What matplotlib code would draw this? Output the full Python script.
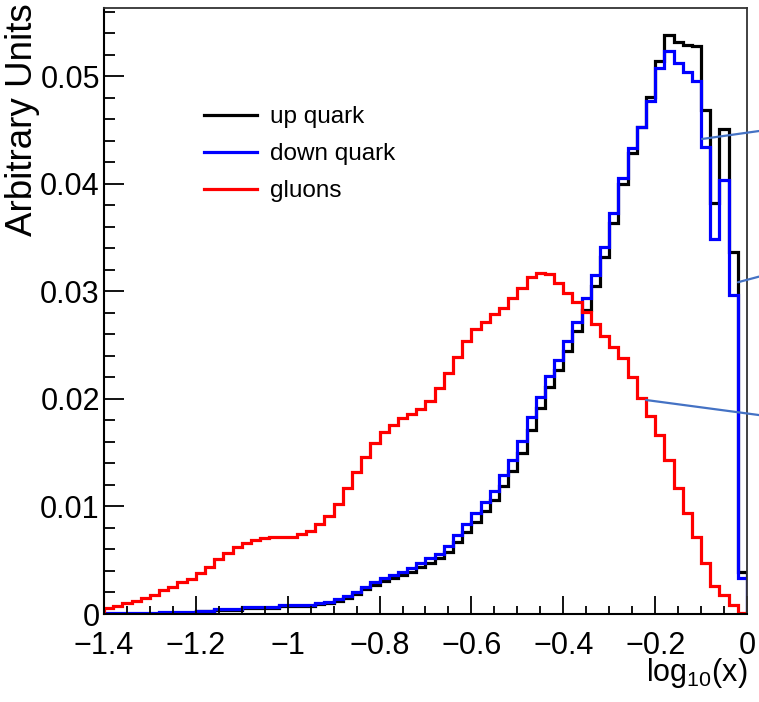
import matplotlib.pyplot as plt
import numpy as np
from matplotlib.lines import Line2D

plt.rcParams['font.family'] = ['Liberation Sans', 'DejaVu Sans']
plt.rcParams['mathtext.fontset'] = 'custom'
plt.rcParams['mathtext.rm'] = 'Liberation Sans'
plt.rcParams['mathtext.it'] = 'Liberation Sans:italic'

# histogram binning: 70 bins in log10(x) from -1.4 to 0
bin_edges = np.linspace(-1.4, 0.0, 71)

# values, one per bin
up_quark = [
    0.00003, 0.00003, 0.00003, 0.00003, 0.00003, 0.00003, 0.00012, 0.00012, 0.00012, 0.00012,
    0.00025, 0.00025, 0.00040, 0.00040, 0.00040, 0.00060, 0.00060, 0.00060, 0.00060, 0.00076,
    0.00076, 0.00076, 0.00076, 0.00090, 0.00105, 0.00125, 0.00152, 0.00188, 0.00230, 0.00270,
    0.00305, 0.00335, 0.00365, 0.00395, 0.00435, 0.00478, 0.00520, 0.00580, 0.00670, 0.00760,
    0.00860, 0.00960, 0.01060, 0.01190, 0.01330, 0.01500, 0.01710, 0.01920, 0.02110, 0.02270,
    0.02450, 0.02630, 0.02830, 0.03050, 0.03320, 0.03640, 0.04000, 0.04290, 0.04530, 0.04810,
    0.05140, 0.05380, 0.05320, 0.05290, 0.05280, 0.04690, 0.03820, 0.04510, 0.03370, 0.00390,
]
down_quark = [
    0.00005, 0.00005, 0.00005, 0.00005, 0.00005, 0.00005, 0.00017, 0.00017, 0.00017, 0.00017,
    0.00032, 0.00032, 0.00045, 0.00045, 0.00045, 0.00068, 0.00068, 0.00068, 0.00068, 0.00084,
    0.00084, 0.00084, 0.00084, 0.00099, 0.00115, 0.00140, 0.00170, 0.00208, 0.00254, 0.00295,
    0.00332, 0.00363, 0.00394, 0.00425, 0.00471, 0.00518, 0.00558, 0.00635, 0.00735, 0.00837,
    0.00936, 0.01038, 0.01147, 0.01290, 0.01430, 0.01612, 0.01829, 0.02021, 0.02213, 0.02362,
    0.02542, 0.02718, 0.02935, 0.03152, 0.03416, 0.03726, 0.04051, 0.04330, 0.04525, 0.04770,
    0.05074, 0.05238, 0.05121, 0.05043, 0.04959, 0.04346, 0.03484, 0.04036, 0.02966, 0.00335,
]
gluons = [
    0.00053, 0.00076, 0.00100, 0.00124, 0.00153, 0.00180, 0.00220, 0.00254, 0.00300, 0.00330,
    0.00380, 0.00440, 0.00510, 0.00570, 0.00620, 0.00660, 0.00690, 0.00705, 0.00720, 0.00720,
    0.00720, 0.00740, 0.00770, 0.00837, 0.00914, 0.01023, 0.01172, 0.01317, 0.01463, 0.01593,
    0.01692, 0.01757, 0.01826, 0.01857, 0.01906, 0.01984, 0.02102, 0.02244, 0.02390, 0.02539,
    0.02650, 0.02716, 0.02789, 0.02845, 0.02940, 0.03036, 0.03137, 0.03168, 0.03162, 0.03075,
    0.02988, 0.02904, 0.02811, 0.02697, 0.02585, 0.02486, 0.02377, 0.02207, 0.02005, 0.01840,
    0.01660, 0.01432, 0.01169, 0.00936, 0.00713, 0.00471, 0.00260, 0.00177, 0.00084, 0.00006,
]

series_labels = ['up quark', 'down quark', 'gluons']
series_colors = ['black', '#0000ff', '#ff0000']

# pointer lines that run off the right edge (start point, end point)
pointer_starts = [(-0.098, 0.04417), (-0.0196, 0.03085), (-0.2199, 0.0199)]
pointer_ends = [(0.026, 0.04491), (0.026, 0.03137), (0.026, 0.0185)]

fig = plt.figure(figsize=(7.59, 7.02), dpi=100)
ax = fig.add_axes([104 / 759, 1 - 614 / 702, 643 / 759, 606 / 702])

for vals, col in zip([up_quark, down_quark, gluons], series_colors):
    ax.stairs(vals, bin_edges, color=col, linewidth=2.3)

ax.set_xlim(-1.4, 0.0)
ax.set_ylim(0, 0.05635)

# ROOT-like axis style
ax.set_xticks(np.arange(-1.4, 0.01, 0.2))
ax.set_xticks(np.arange(-1.4, 0.01, 0.05), minor=True)
ax.set_yticks(np.arange(0, 0.051, 0.01))
ax.set_yticks(np.arange(0, 0.0564, 0.002), minor=True)
ax.xaxis.set_major_formatter(plt.FuncFormatter(lambda v, p: f"{v:.1f}".rstrip('0').rstrip('.').replace('-', '\u2212') if abs(v) > 1e-9 else '0'))
ax.yaxis.set_major_formatter(plt.FuncFormatter(lambda v, p: f"{v:.2f}" if v > 1e-9 else '0'))

ax.tick_params(axis='both', which='both', direction='in', top=False, right=False, color='black')
ax.tick_params(axis='x', which='major', length=13, width=1.3, pad=12, labelsize=22)
ax.tick_params(axis='x', which='minor', length=6, width=1.3)
ax.tick_params(axis='y', which='major', length=14.5, width=1.3, pad=3, labelsize=22)
ax.tick_params(axis='y', which='minor', length=8, width=1.3)

for side in ['left', 'bottom']:
    ax.spines[side].set_linewidth(1.5)
for side in ['top', 'right']:
    ax.spines[side].set_linewidth(1.3)
    ax.spines[side].set_color('#333333')

ax.set_ylabel('Arbitrary Units', fontsize=26.5, loc='top')
ax.yaxis.set_label_coords(-0.1, 1.008)
ax.set_xlabel(r'log$_{10}$(x)', fontsize=22, loc='right')
ax.xaxis.set_label_coords(1.0, -0.07)
ax.xaxis.label.set_va('top')

handles = [Line2D([], [], color=c, linewidth=2.3) for c in series_colors]
ax.legend(handles, series_labels, loc='upper left', bbox_to_anchor=(204 / 759, 1 - 106 / 702),
          bbox_transform=fig.transFigure, frameon=False, fontsize=17.5, handlelength=2.2,
          handletextpad=0.5, labelspacing=0.62, borderpad=0, borderaxespad=0)

for s, e in zip(pointer_starts, pointer_ends):
    ax.annotate('', xy=s, xytext=e, annotation_clip=False,
                arrowprops=dict(arrowstyle='-', color='#4472c4', lw=1.6, shrinkA=0, shrinkB=0))

fig.savefig('out.png', dpi=100)
